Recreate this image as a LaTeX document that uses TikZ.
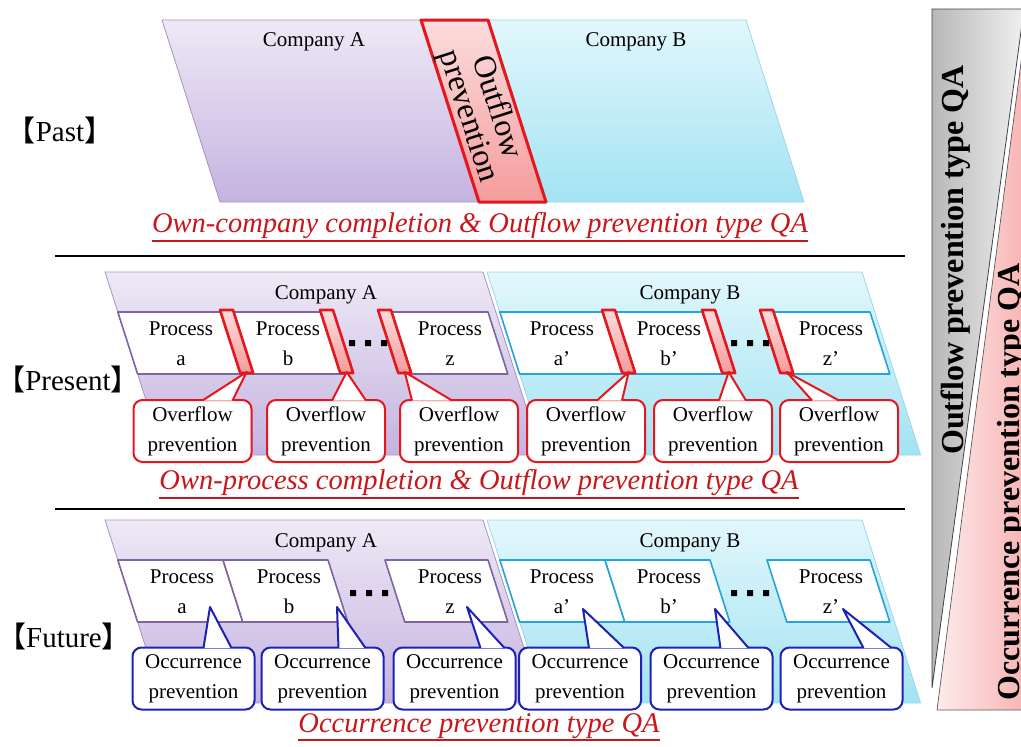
\documentclass[tikz,border=0pt]{standalone}
\usepackage{fontspec}
\setmainfont{Liberation Serif}
\newfontfamily\cjkfont{Noto Sans CJK JP}
\usepackage{tikz}
\usetikzlibrary{positioning}
\definecolor{qapurple}{HTML}{8064A2}
\definecolor{qalav}{HTML}{EEE9F6}
\definecolor{qalavdk}{HTML}{C4B3E0}
\definecolor{qacyan}{HTML}{23A4DA}
\definecolor{qasky}{HTML}{E2F7FC}
\definecolor{qaskydk}{HTML}{A2E3F3}
\definecolor{qared}{HTML}{E5161D}
\definecolor{qapink}{HTML}{F59C9C}
\definecolor{qablue}{HTML}{1E22B4}
\definecolor{qacapred}{HTML}{C8161A}

\begin{document}
\begin{tikzpicture}[x=1pt,y=-1pt,
    compA/.style={draw=qapurple!70,line width=0.8pt,top color=qalav,bottom color=qalavdk},
    compB/.style={draw=qacyan!45,line width=0.8pt,top color=qasky,bottom color=qaskydk},
    prowA/.style={draw=qapurple,line width=1.6pt,fill=white,line join=round},
    prowB/.style={draw=qacyan,line width=1.6pt,fill=white,line join=round},
    redtab/.style={draw=qared,line width=2.6pt,top color=qapink!35,bottom color=qapink,line join=round},
    cotxt/.style={font=\fontsize{21}{23}\selectfont,inner sep=0pt},
    proctxt/.style={font=\fontsize{21}{30}\selectfont,align=center,inner sep=0pt},
    redcall/.style={draw=qared,line width=2pt,fill=white,rounded corners=9pt,minimum width=118pt,minimum height=62pt,align=center,inner sep=0pt,font=\fontsize{21}{30}\selectfont},
    bluecall/.style={draw=qablue,line width=2pt,fill=white,rounded corners=9pt,minimum width=122pt,minimum height=62pt,align=center,inner sep=0pt,font=\fontsize{21}{30}\selectfont},
    redtail/.style={draw=qared,line width=2pt,fill=white,line join=round},
    bluetail/.style={draw=qablue,line width=2pt,fill=white,line join=round},
    dotsq/.style={fill=black},
    era/.style={font=\fontsize{29}{31}\selectfont,inner sep=0pt},
    qacap/.style={font=\itshape\fontsize{28.5}{30}\selectfont,text=qacapred,inner sep=0pt},
    capline/.style={draw=qacapred,line width=1.6pt},
    sidetxt/.style={font=\bfseries\fontsize{32}{34}\selectfont,rotate=90,inner sep=0pt}]
  \useasboundingbox (0,0) rectangle (1021,747);

  % right-hand wedges
  \path[draw=black!75,line width=0.8pt,left color=black!28,right color=black!6] (932,9) -- (1024,9) -- (932,688) -- cycle;
  \path[draw=black!65,line width=0.7pt,left color=qapink!20,right color=qapink!85] (937,710) -- (1025.5,28) -- (1040,28) -- (1040,710) -- cycle;
  \node[sidetxt] (outQA) at (956,260) {Outflow prevention type QA};
  \node[sidetxt] (occQA) at (1012,482) {Occurrence prevention type QA};

  % past
  \path[compA] (162,20) -- (421,20) -- (479,202) -- (220,202) -- cycle;
  \path[compB] (488,20) -- (746,20) -- (804,202) -- (546,202) -- cycle;
  \path[redtab,line width=3pt] (421,20) -- (488,20) -- (546,202) -- (479,202) -- cycle;
  \node[cotxt] (pastA) at (314,42) {Company A};
  \node[cotxt] (pastB) at (636,42) {Company B};
  \node[font=\fontsize{32}{30}\selectfont,align=center,rotate=-72.3,inner sep=0pt] (pastOut) at (482,112) {Outflow\\prevention};
  \node[era] (past) at (60,130) {{\cjkfont 【}Past{\cjkfont 】}};
  \node[qacap] (pastCap) at (480,226) {Own-company completion \& Outflow prevention type QA};
  \draw[capline] ([yshift=-1.5pt]pastCap.south west) -- ([yshift=-1.5pt]pastCap.south east);
  \draw[line width=1.8pt] (55,256) -- (905,256);

  % present
  \path[compA] (105,272) -- (483,272) -- (541.6,455) -- (163.6,455) -- cycle;
  \path[compB] (487,272) -- (862,272) -- (920.6,455) -- (545.6,455) -- cycle;
  \path[prowA] (117.8,312) -- (328,312) -- (347.8,374) -- (137.6,374) -- cycle;
  \path[prowA] (385,312) -- (488,312) -- (507.8,374) -- (404.8,374) -- cycle;
  \path[prowB] (499.8,312) -- (710,312) -- (729.8,374) -- (519.6,374) -- cycle;
  \path[prowB] (767,312) -- (870,312) -- (889.8,374) -- (786.8,374) -- cycle;
  \path[redtab] (220,310) -- (233,310) -- (253.2,373) -- (240.2,373) -- cycle;
  \path[redtab] (320,310) -- (333,310) -- (353.2,373) -- (340.2,373) -- cycle;
  \path[redtab] (378,310) -- (391,310) -- (411.2,373) -- (398.2,373) -- cycle;
  \path[redtab] (602,310) -- (615,310) -- (635.2,373) -- (622.2,373) -- cycle;
  \path[redtab] (702,310) -- (715,310) -- (735.2,373) -- (722.2,373) -- cycle;
  \path[redtab] (760,310) -- (773,310) -- (793.2,373) -- (780.2,373) -- cycle;
  \node[cotxt] (nowA) at (326,295) {Company A};
  \node[cotxt] (nowB) at (690,295) {Company B};
  \node[proctxt] (nowPa) at (181,344) {Process\\a};
  \node[proctxt] (nowPb) at (288,344) {Process\\b};
  \node[proctxt] (nowPz) at (450,344) {Process\\z};
  \node[proctxt] (nowPa2) at (562,344) {Process\\a’};
  \node[proctxt] (nowPb2) at (669,344) {Process\\b’};
  \node[proctxt] (nowPz2) at (831,344) {Process\\z’};
  \fill[dotsq] (349,340) rectangle (355,346) (365,340) rectangle (371,346) (381,340) rectangle (387,346);
  \fill[dotsq] (731,340) rectangle (737,346) (747,340) rectangle (753,346) (763,340) rectangle (769,346);
  \node[era] (present) at (68,379) {{\cjkfont 【}Present{\cjkfont 】}};
  \node[redcall] (ov1) at (192.5,431) {Overflow\\prevention};
  \node[redcall] (ov2) at (326,431) {Overflow\\prevention};
  \node[redcall] (ov3) at (459,431) {Overflow\\prevention};
  \node[redcall] (ov4) at (586,431) {Overflow\\prevention};
  \node[redcall] (ov5) at (713,431) {Overflow\\prevention};
  \node[redcall] (ov6) at (839,431) {Overflow\\prevention};
  \coordinate (rt1) at (246.7,372);
  \coordinate (rt2) at (346.7,372);
  \coordinate (rt3) at (404.7,372);
  \coordinate (rt4) at (628.7,372);
  \coordinate (rt5) at (728.7,372);
  \coordinate (rt6) at (786.7,372);
  \filldraw[redtail] ([xshift=70pt,yshift=-1.5pt]ov1.north west) -- (rt1) -- ([xshift=100pt,yshift=-1.5pt]ov1.north west);
  \filldraw[redtail] ([xshift=66pt,yshift=-1.5pt]ov2.north west) -- (rt2) -- ([xshift=100pt,yshift=-1.5pt]ov2.north west);
  \filldraw[redtail] ([xshift=13pt,yshift=-1.5pt]ov3.north west) -- (rt3) -- ([xshift=53pt,yshift=-1.5pt]ov3.north west);
  \filldraw[redtail] ([xshift=71pt,yshift=-1.5pt]ov4.north west) -- (rt4) -- ([xshift=96pt,yshift=-1.5pt]ov4.north west);
  \filldraw[redtail] ([xshift=66pt,yshift=-1.5pt]ov5.north west) -- (rt5) -- ([xshift=93pt,yshift=-1.5pt]ov5.north west);
  \filldraw[redtail] ([xshift=33pt,yshift=-1.5pt]ov6.north west) -- (rt6) -- ([xshift=60pt,yshift=-1.5pt]ov6.north west);
  \node[qacap] (nowCap) at (479,483) {Own-process completion \& Outflow prevention type QA};
  \draw[capline] ([yshift=-1.5pt]nowCap.south west) -- ([yshift=-1.5pt]nowCap.south east);
  \draw[line width=1.8pt] (55,509) -- (905,509);

  % future
  \path[compA] (105,520) -- (483,520) -- (541.6,703) -- (163.6,703) -- cycle;
  \path[compB] (487,520) -- (862,520) -- (920.6,703) -- (545.6,703) -- cycle;
  \path[prowA] (117.8,560) -- (223,560) -- (242.8,622) -- (137.6,622) -- cycle;
  \path[prowA] (223,560) -- (328,560) -- (347.8,622) -- (242.8,622) -- cycle;
  \path[prowA] (385,560) -- (488,560) -- (507.8,622) -- (404.8,622) -- cycle;
  \path[prowB] (499.8,560) -- (605,560) -- (624.8,622) -- (519.6,622) -- cycle;
  \path[prowB] (605,560) -- (710,560) -- (729.8,622) -- (624.8,622) -- cycle;
  \path[prowB] (767,560) -- (870,560) -- (889.8,622) -- (786.8,622) -- cycle;
  \node[cotxt] (nextA) at (326,543) {Company A};
  \node[cotxt] (nextB) at (690,543) {Company B};
  \node[proctxt] (nextPa) at (182,592) {Process\\a};
  \node[proctxt] (nextPb) at (289,592) {Process\\b};
  \node[proctxt] (nextPz) at (450,592) {Process\\z};
  \node[proctxt] (nextPa2) at (562,592) {Process\\a’};
  \node[proctxt] (nextPb2) at (669,592) {Process\\b’};
  \node[proctxt] (nextPz2) at (831,592) {Process\\z’};
  \fill[dotsq] (350,590) rectangle (356,596) (366,590) rectangle (372,596) (382,590) rectangle (388,596);
  \fill[dotsq] (731,590) rectangle (737,596) (747,590) rectangle (753,596) (763,590) rectangle (769,596);
  \node[era] (future) at (64,636) {{\cjkfont 【}Future{\cjkfont 】}};
  \node[bluecall] (oc1) at (193.5,678.5) {Occurrence\\prevention};
  \node[bluecall] (oc2) at (322.5,678.5) {Occurrence\\prevention};
  \node[bluecall] (oc3) at (454.5,678.5) {Occurrence\\prevention};
  \node[bluecall] (oc4) at (580,678.5) {Occurrence\\prevention};
  \node[bluecall] (oc5) at (711.5,678.5) {Occurrence\\prevention};
  \node[bluecall] (oc6) at (841.5,678.5) {Occurrence\\prevention};
  \coordinate (bt1) at (210,607);
  \coordinate (bt2) at (337,607);
  \coordinate (bt3) at (467,607);
  \coordinate (bt4) at (583,609);
  \coordinate (bt5) at (715,609);
  \coordinate (bt6) at (843,609);
  \filldraw[bluetail] ([xshift=72pt,yshift=-1.5pt]oc1.north west) -- (bt1) -- ([xshift=100pt,yshift=-1.5pt]oc1.north west);
  \filldraw[bluetail] ([xshift=78pt,yshift=-1.5pt]oc2.north west) -- (bt2) -- ([xshift=105pt,yshift=-1.5pt]oc2.north west);
  \filldraw[bluetail] ([xshift=88pt,yshift=-1.5pt]oc3.north west) -- (bt3) -- ([xshift=112pt,yshift=-1.5pt]oc3.north west);
  \filldraw[bluetail] ([xshift=71pt,yshift=-1.5pt]oc4.north west) -- (bt4) -- ([xshift=106pt,yshift=-1.5pt]oc4.north west);
  \filldraw[bluetail] ([xshift=71pt,yshift=-1.5pt]oc5.north west) -- (bt5) -- ([xshift=99pt,yshift=-1.5pt]oc5.north west);
  \filldraw[bluetail] ([xshift=84pt,yshift=-1.5pt]oc6.north west) -- (bt6) -- ([xshift=112pt,yshift=-1.5pt]oc6.north west);
  \node[qacap] (nextCap) at (479,726) {Occurrence prevention type QA};
  \draw[capline] ([yshift=-1.5pt]nextCap.south west) -- ([yshift=-1.5pt]nextCap.south east);
\end{tikzpicture}
\end{document}
